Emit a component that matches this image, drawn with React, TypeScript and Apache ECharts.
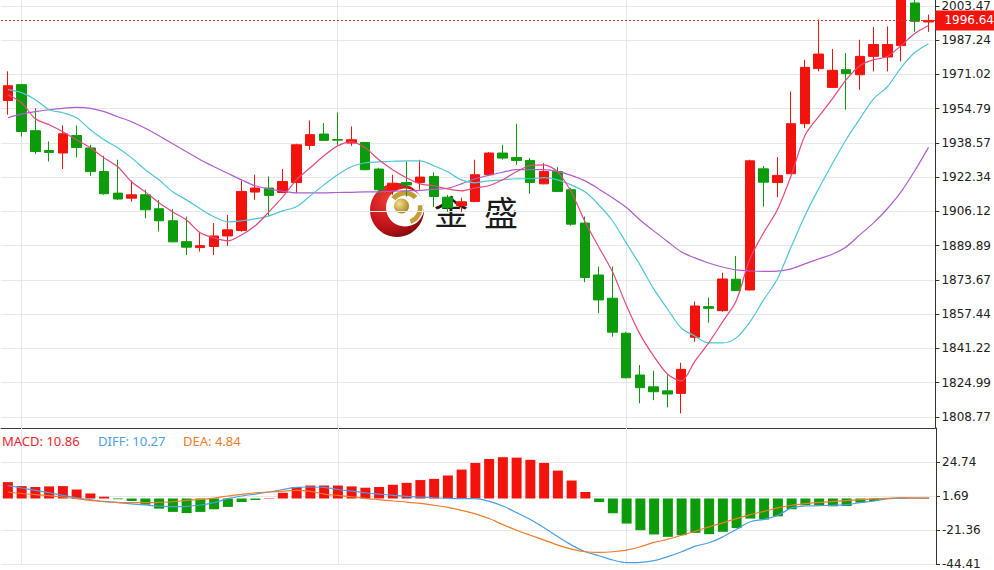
import React, { useEffect, useRef } from 'react';
import * as echarts from 'echarts';

const categories = ['1','2','3','4','5','6','7','8','9','10','11','12','13','14','15','16','17','18','19','20','21','22','23','24','25','26','27','28','29','30','31','32','33','34','35','36','37','38','39','40','41','42','43','44','45','46','47','48','49','50','51','52','53','54','55','56','57','58','59','60','61','62','63','64','65','66','67','68'];

const opens = [1958.7,1966.2,1944.4,1935.0,1933.8,1942.1,1936.2,1925.0,1914.8,1912.4,
  1914.0,1907.4,1901.7,1891.8,1889.0,1889.5,1894.5,1897.1,1915.3,1917.2,
  1915.1,1919.8,1937.4,1942.8,1940.2,1938.5,1938.8,1926.2,1916.4,1919.8,
  1919.8,1922.7,1912.9,1908.8,1910.8,1923.5,1933.8,1931.7,1930.3,1919.2,
  1925.0,1916.4,1900.6,1876.0,1865.0,1848.4,1828.6,1823.0,1821.1,1819.9,
  1846.5,1861.0,1859.1,1874.0,1868.9,1926.3,1919.8,1924.0,1947.7,1973.8,
  1964.9,1973.3,1970.9,1979.6,1979.3,1984.7,2004.9,1995.9];
const closes = [1965.7,1944.0,1934.5,1934.1,1942.9,1936.4,1925.0,1914.5,1912.0,1914.0,
  1906.9,1901.7,1891.7,1889.2,1889.9,1894.5,1897.4,1915.6,1917.2,1913.7,
  1920.3,1937.7,1942.5,1939.8,1939.9,1940.1,1925.9,1916.4,1919.5,1918.7,
  1922.4,1913.2,1907.8,1910.7,1923.5,1933.8,1931.4,1930.3,1919.8,1925.0,
  1915.6,1900.1,1874.8,1864.2,1848.9,1827.3,1822.6,1820.7,1819.6,1831.3,
  1861.3,1860.2,1874.1,1868.6,1930.1,1920.0,1923.2,1947.7,1974.4,1980.7,
  1973.0,1971.4,1979.6,1985.2,1985.2,2006.3,1996.2,1996.64];
const lows = [1951.9,1941.6,1933.3,1929.8,1926.2,1931.7,1923.0,1914.0,1911.5,1910.8,
  1902.9,1896.6,1891.5,1885.5,1887.1,1885.5,1889.8,1896.5,1911.6,1904.2,
  1914.8,1914.8,1935.3,1939.6,1937.7,1937.2,1925.7,1914.0,1914.0,1913.2,
  1916.4,1908.2,1906.0,1905.9,1910.5,1923.3,1930.6,1928.2,1914.5,1919.0,
  1915.4,1899.3,1872.6,1857.9,1846.8,1827.0,1815.2,1816.7,1813.3,1810.4,
  1844.4,1853.4,1858.6,1868.4,1868.7,1908.4,1912.9,1923.8,1945.6,1972.5,
  1964.7,1954.3,1963.8,1972.5,1972.5,1977.2,1991.2,1991.2];
const highs = [1972.5,1966.6,1955.1,1939.3,1946.9,1946.9,1937.7,1932.5,1930.6,1920.8,
  1916.4,1911.6,1907.2,1903.7,1896.1,1900.6,1904.5,1920.8,1923.5,1922.7,
  1926.2,1938.2,1949.2,1948.0,1953.0,1946.4,1939.0,1926.8,1923.5,1929.8,
  1930.6,1924.6,1914.0,1912.6,1930.6,1934.2,1937.7,1947.7,1931.4,1929.0,
  1927.1,1917.2,1903.7,1880.0,1880.0,1849.1,1833.3,1830.6,1828.6,1834.4,
  1863.4,1865.3,1877.1,1885.0,1930.6,1927.7,1931.9,1963.0,1978.0,1997.0,
  1983.1,1981.2,1987.5,1993.5,1993.8,2009.0,2009.0,1999.4];

const ma5 = [1961.4,1957.6,1950.0,1947.2,1943.9,1940.1,1936.3,1931.5,1927.3,1920.2,
  1915.4,1910.2,1905.9,1902.1,1896.0,1893.6,1892.2,1895.0,1899.3,1905.9,
  1913.0,1921.1,1926.8,1932.5,1937.2,1939.1,1936.3,1930.6,1925.9,1922.1,
  1919.2,1918.3,1916.8,1915.9,1917.3,1918.3,1921.1,1924.9,1927.8,1928.2,
  1924.9,1915.4,1901.2,1889.3,1877.5,1861.8,1848.0,1837.6,1829.1,1825.8,
  1835.2,1843.8,1853.7,1863.7,1883.6,1896.0,1906.9,1923.0,1942.0,1951.0,
  1959.5,1968.5,1975.2,1978.0,1979.5,1984.7,1990.4,1994.2];
const ma10 = [1963.8,1962.4,1959.1,1954.3,1952.9,1950.5,1944.8,1940.1,1936.3,1931.5,
  1925.9,1921.1,1915.4,1911.6,1907.4,1903.6,1901.2,1901.7,1902.6,1904.0,
  1906.4,1908.3,1913.5,1918.7,1923.5,1927.3,1929.2,1929.6,1929.9,1930.1,
  1930.1,1927.8,1924.9,1921.1,1919.7,1920.6,1921.1,1921.6,1921.6,1922.1,
  1921.1,1918.7,1915.4,1909.3,1901.7,1891.2,1880.8,1869.4,1859.9,1850.9,
  1847.1,1843.8,1843.8,1846.2,1853.7,1864.2,1874.1,1889.3,1904.0,1916.8,
  1928.7,1940.1,1950.0,1959.5,1965.2,1974.2,1981.4,1985.6];
const ma20 = [1950.5,1952.2,1953.4,1954.3,1955.0,1955.4,1955.0,1953.4,1951.0,1948.6,
  1945.5,1942.0,1938.2,1934.4,1930.6,1927.3,1924.2,1921.1,1918.3,1916.8,
  1915.7,1914.9,1914.9,1914.9,1915.1,1915.2,1915.4,1915.4,1915.7,1915.9,
  1916.1,1916.6,1917.1,1919.2,1921.6,1923.2,1924.7,1925.9,1925.9,1925.9,
  1925.1,1923.2,1920.6,1916.8,1912.6,1908.1,1902.1,1896.9,1891.9,1887.0,
  1884.1,1881.7,1879.8,1878.4,1877.9,1877.7,1877.8,1878.9,1881.3,1883.6,
  1885.8,1889.3,1895.0,1900.7,1907.4,1915.4,1925.4,1936.5];

const macdHist = [11.1,8.4,7.8,8.2,8.4,6.1,3.4,1.2,-0.5,-1.7,-4.2,-6.9,-9.1,-9.9,-9.1,-7.3,-5.7,-2.4,-1.0,0.3,3.9,7.8,8.8,8.8,
  8.8,8.2,7.3,7.8,9.3,10.6,12.5,13.3,15.6,19.6,24.1,26.8,28.0,27.7,26.2,24.1,18.9,12.2,4.4,-2.4,-10.0,-17.0,-21.5,-24.4,
  -26.0,-24.9,-23.3,-24.2,-22.6,-20.1,-13.6,-14.3,-12.1,-7.3,-4.6,-4.6,-5.3,-5.1,-2.8,-1.7,-0.4,0.5,0,0];
const diff = [8.8,7.1,5.5,3.9,2.1,0.5,-0.8,-2.0,-2.8,-3.7,-4.4,-5.1,-5.5,-5.3,-4.4,-2.8,-0.1,1.7,3.0,4.4,6.1,7.5,7.8,7.5,
  6.1,5.0,3.9,3.0,2.1,1.4,1.0,0.5,0.1,-0.1,-0.1,-2.0,-5.1,-9.6,-14.3,-19.9,-26.0,-31.6,-36.1,-38.8,-41.7,-43.5,-43.3,-42.1,
  -39.4,-36.1,-32.3,-30.0,-26.0,-20.8,-15.8,-14.1,-11.4,-6.4,-5.1,-4.9,-4.6,-4.2,-2.8,-1.7,-0.1,0.3,0.3,0.3];
const dea = [4.4,3.4,2.6,1.9,1.0,-0.1,-1.3,-2.2,-2.6,-2.8,-2.8,-2.6,-2.2,-1.3,-0.6,0.3,1.7,2.8,3.9,4.4,5.0,5.5,4.8,3.0,
  2.1,1.2,0.1,-0.8,-1.7,-2.4,-3.3,-4.6,-6.0,-8.0,-10.4,-13.6,-17.7,-21.5,-24.9,-28.2,-31.6,-34.3,-36.1,-36.5,-36.1,-35.0,-32.7,-29.8,
  -27.6,-24.9,-22.2,-19.2,-16.5,-13.6,-10.9,-8.7,-6.4,-4.6,-3.5,-2.6,-2.0,-1.5,-0.8,-0.3,0.1,0.5,0.3,0.3];

const priceTicks = [1808.77,1824.99,1841.22,1857.44,1873.67,1889.89,1906.12,1922.34,1938.57,1954.79,1971.02,1987.24,2003.47];
const macdTicks = [24.74,1.69,-21.36,-44.41];
const monthStarts = [1, 24, 45];
const lastPrice = 1996.64;
const legendMacd = 'MACD: 10.86';
const legendDiff = 'DIFF: 10.27';
const legendDea = 'DEA: 4.84';

const RED = '#f2140c';
const GREEN = '#0b9b0b';
const GOLD = '#c49d36';
const AXIS_FONT = 'DejaVu Sans';

export default function App() {
  const ref = useRef<HTMLDivElement>(null);
  useEffect(() => {
    if (!ref.current) return;
    const chart = echarts.init(ref.current, undefined, { renderer: 'svg' });
    const candleData = opens.map((o, i) => [o, closes[i], lows[i], highs[i]]);
    const vLines = {
      silent: true,
      symbol: ['none', 'none'],
      z: 1,
      label: { show: false },
      lineStyle: { color: '#dfe6ee', type: 'solid', width: 1 },
      emphasis: { disabled: true },
      data: monthStarts.map((i) => ({ xAxis: i })),
    };
    const option: any = {
      animation: false,
      backgroundColor: '#ffffff',
      grid: [
        { left: 1, right: 58, top: 0, height: 428 },
        { left: 1, right: 58, top: 428, height: 138 },
      ],
      xAxis: [
        {
          type: 'category', gridIndex: 0, data: categories, boundaryGap: true,
          axisLine: { show: true, onZero: false, lineStyle: { color: '#3c3c3c', width: 1 } },
          axisTick: { show: false }, axisLabel: { show: false }, splitLine: { show: false },
        },
        {
          type: 'category', gridIndex: 1, data: categories, boundaryGap: true,
          axisLine: { show: false }, axisTick: { show: false }, axisLabel: { show: false }, splitLine: { show: false },
        },
      ],
      yAxis: [
        {
          type: 'value', gridIndex: 0, position: 'right', min: 1803.5, max: 2006.2,
          axisLine: { show: true, lineStyle: { color: '#333' } },
          axisTick: { show: true, length: 4, customValues: priceTicks, lineStyle: { color: '#333' } },
          axisLabel: {
            customValues: priceTicks, color: '#222', fontSize: 12, fontFamily: AXIS_FONT, margin: 6,
            formatter: (v: number) => v.toFixed(2),
          },
          splitLine: { show: true, lineStyle: { color: '#e8e8e8' } },
        },
        {
          type: 'value', gridIndex: 1, position: 'right', min: -44.41, max: 47.79,
          axisLine: { show: true, lineStyle: { color: '#333' } },
          axisTick: { show: true, length: 4, customValues: macdTicks, lineStyle: { color: '#333' } },
          axisLabel: {
            customValues: macdTicks, color: '#222', fontSize: 12, fontFamily: AXIS_FONT, margin: 6,
            formatter: (v: number) => v.toFixed(2),
          },
          splitLine: { show: true, lineStyle: { color: '#e8e8e8' } },
        },
      ],
      series: [
        {
          name: 'K', type: 'candlestick', xAxisIndex: 0, yAxisIndex: 0, data: candleData,
          barWidth: 10, z: 3, clip: true,
          itemStyle: { color: RED, color0: GREEN, borderColor: RED, borderColor0: GREEN, borderWidth: 1 },
          markLine: {
            silent: true, symbol: ['none', 'none'], z: 6,
            data: [{
              yAxis: lastPrice,
              lineStyle: { color: '#e8302a', type: [2, 2], width: 1 },
              label: {
                show: true, position: 'end', distance: 0, formatter: lastPrice.toFixed(2),
                color: '#fff', backgroundColor: RED, padding: [4, 4, 4, 9],
                fontSize: 12, fontFamily: AXIS_FONT,
              },
            }],
          },
        },
        {
          name: 'MA20', type: 'line', xAxisIndex: 0, yAxisIndex: 0, data: ma20, showSymbol: false, smooth: 0.3,
          z: 4, lineStyle: { color: '#b05cd0', width: 1.2 }, markLine: vLines,
        },
        {
          name: 'MA10', type: 'line', xAxisIndex: 0, yAxisIndex: 0, data: ma10, showSymbol: false, smooth: 0.3,
          z: 4, lineStyle: { color: '#4fc6d6', width: 1.2 },
        },
        {
          name: 'MA5', type: 'line', xAxisIndex: 0, yAxisIndex: 0, data: ma5, showSymbol: false, smooth: 0.3,
          z: 4, lineStyle: { color: '#e8477e', width: 1.2 },
        },
        {
          name: 'MACD', type: 'bar', xAxisIndex: 1, yAxisIndex: 1, barWidth: 10, z: 3,
          data: macdHist.map((v) => ({ value: v, itemStyle: { color: v >= 0 ? RED : GREEN } })),
        },
        {
          name: 'DIFF', type: 'line', xAxisIndex: 1, yAxisIndex: 1, data: diff, showSymbol: false, smooth: 0.3,
          z: 4, lineStyle: { color: '#4a9fe6', width: 1.2 }, markLine: vLines,
        },
        {
          name: 'DEA', type: 'line', xAxisIndex: 1, yAxisIndex: 1, data: dea, showSymbol: false, smooth: 0.3,
          z: 4, lineStyle: { color: '#ef7b2b', width: 1.2 },
        },
      ],
      graphic: [
        { type: 'text', x: 2, y: 441, z: 20, style: { text: legendMacd, fill: '#e8262b', font: '13px "Noto Sans"', verticalAlign: 'middle' } },
        { type: 'text', x: 98, y: 441, z: 20, style: { text: legendDiff, fill: '#4a9fe6', font: '13px "Noto Sans"', verticalAlign: 'middle' } },
        { type: 'text', x: 183, y: 441, z: 20, style: { text: legendDea, fill: '#ef7b2b', font: '13px "Noto Sans"', verticalAlign: 'middle' } },
        {
          type: 'group', z: 20, children: [
            {
              type: 'circle', shape: { cx: 397, cy: 210, r: 27 },
              style: {
                fill: new echarts.graphic.RadialGradient(0.35, 0.3, 0.8, [
                  { offset: 0, color: '#ef3b33' }, { offset: 0.6, color: '#c4141a' }, { offset: 1, color: '#7a080b' },
                ]),
              },
            },
            { type: 'circle', shape: { cx: 405, cy: 207.5, r: 19 }, style: { fill: '#ffffff' } },
            { type: 'sector', shape: { cx: 405, cy: 207.5, r0: 12, r: 17, startAngle: -2.5, endAngle: -0.75 }, style: { fill: GOLD } },
            { type: 'sector', shape: { cx: 405, cy: 207.5, r0: 13, r: 17.5, startAngle: -0.15, endAngle: 1.2 }, style: { fill: GOLD } },
            {
              type: 'circle', shape: { cx: 401.5, cy: 206, r: 7.5 },
              style: {
                fill: new echarts.graphic.RadialGradient(0.35, 0.35, 0.75, [
                  { offset: 0, color: '#f5e08e' }, { offset: 1, color: '#a57d1c' },
                ]),
              },
            },
            { type: 'text', x: 451, y: 210, style: { text: '金', fill: '#1b1b1b', font: '34px "Noto Sans CJK SC"', align: 'center', verticalAlign: 'middle' } },
            { type: 'text', x: 501, y: 211, style: { text: '盛', fill: '#1b1b1b', font: '34px "Noto Sans CJK SC"', align: 'center', verticalAlign: 'middle' } },
          ],
        },
      ],
    };
    chart.setOption(option);
    return () => chart.dispose();
  }, []);
  return <div ref={ref} style={{ position: 'fixed', left: 0, top: 0, width: 994, height: 570, background: '#fff' }} />;
}
